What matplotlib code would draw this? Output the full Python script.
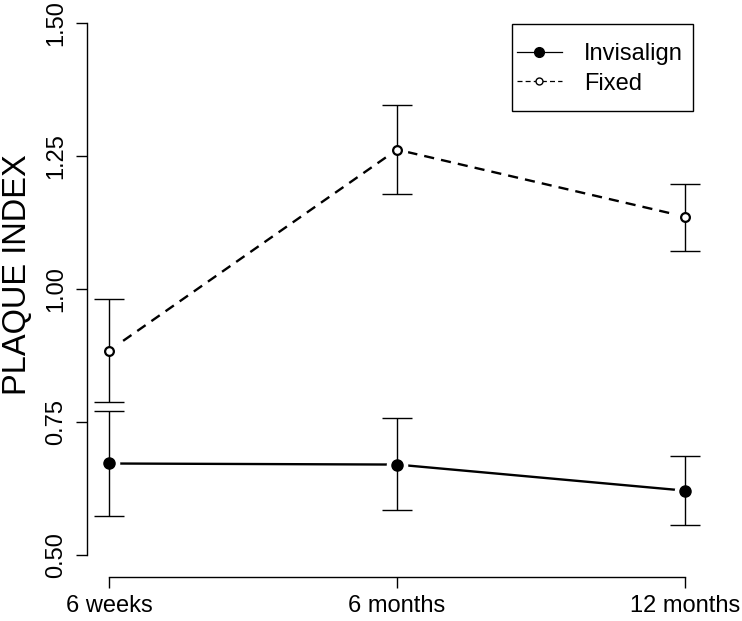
import matplotlib
matplotlib.use("Agg")
import matplotlib.pyplot as plt
from matplotlib.lines import Line2D
from matplotlib.patches import Rectangle

# values
time_labels = ["6 weeks", "6 months", "12 months"]
time_pos = [1, 2, 3]

invisalign_mean = [0.672, 0.670, 0.621]
invisalign_lo = [0.574, 0.585, 0.557]
invisalign_hi = [0.771, 0.758, 0.687]

fixed_mean = [0.884, 1.262, 1.136]
fixed_lo = [0.788, 1.179, 1.071]
fixed_hi = [0.981, 1.345, 1.197]

plt.rcParams["font.family"] = ["Liberation Sans", "DejaVu Sans"]

fig = plt.figure(figsize=(7.42, 6.21), dpi=100)
W, H = 742, 621
# axes box in pixels: left 87, right 710, top 10, bottom 577
ax = fig.add_axes([87 / W, (H - 577) / H, (710 - 87) / W, (577 - 10) / H])
ax.set_xlim(1 - 22 / 288, 3 + 25 / 288)
ax.set_ylim(0.5 - 22 / 532, 1.5 + 13 / 532)


def draw_series(mean, lo, hi, filled, dashed):
    err = [[m - l for m, l in zip(mean, lo)], [h - m for m, h in zip(mean, hi)]]
    ls = (0, (4.3, 3.0)) if dashed else "-"
    ax.plot(time_pos, mean, color="black", lw=1.7, ls=ls, zorder=1)
    # white halo to leave a gap between line and points (R type="b")
    ax.plot(time_pos, mean, ls="none", marker="o", ms=14.5, mfc="white",
            mec="white", zorder=2)
    ax.errorbar(time_pos, mean, yerr=err, fmt="none", ecolor="black",
                elinewidth=1.0, capsize=10.8, capthick=1.0, zorder=3)
    ax.plot(time_pos, mean, ls="none", marker="o", ms=8.0 if filled else 6.3,
            mfc="black" if filled else "white", mec="black",
            mew=1.0 if filled else 1.6, zorder=4)


draw_series(invisalign_mean, invisalign_lo, invisalign_hi, True, False)
draw_series(fixed_mean, fixed_lo, fixed_hi, False, True)

for s in ["top", "right"]:
    ax.spines[s].set_visible(False)
ax.spines["left"].set_bounds(0.5, 1.5)
ax.spines["bottom"].set_bounds(1, 3)
for s in ["left", "bottom"]:
    ax.spines[s].set_linewidth(1.0)

ax.set_yticks([0.5, 0.75, 1.0, 1.25, 1.5])
ax.set_yticklabels(["0.50", "0.75", "1.00", "1.25", "1.50"], rotation=90,
                   va="center")
ax.set_xticks(time_pos)
ax.set_xticklabels(time_labels)
ax.tick_params(axis="both", direction="out", length=8, width=1.0,
               labelsize=17)
ax.tick_params(axis="y", pad=6.5)
ax.tick_params(axis="x", pad=5)

fig.text(18 / W, 1 - 275 / H, "PLAQUE INDEX", rotation=90, ha="center",
         va="center", fontsize=23.5)

# legend box drawn like R's legend frame
fig.patches.append(Rectangle((512 / W, 1 - 111 / H), (693 - 512) / W,
                             (111 - 24) / H, transform=fig.transFigure,
                             fill=False, edgecolor="black", lw=1.0))
handles = [
    Line2D([], [], color="black", lw=0.9, marker="o", ms=7, mfc="black",
           mec="black"),
    Line2D([], [], color="black", lw=0.9, ls=(0, (4, 2.5)), marker="o", ms=5,
           mfc="white", mec="black", mew=1.0),
]
leg = ax.legend(handles, ["Invisalign", "Fixed"], loc="upper left",
                bbox_to_anchor=((517 - 87) / (710 - 87), 1 - (43 - 10) / (577 - 10)),
                fontsize=17, frameon=False, handlelength=1.9,
                handletextpad=0.93, borderpad=0, labelspacing=0.32,
                borderaxespad=0)

fig.savefig("out.png", dpi=100)
